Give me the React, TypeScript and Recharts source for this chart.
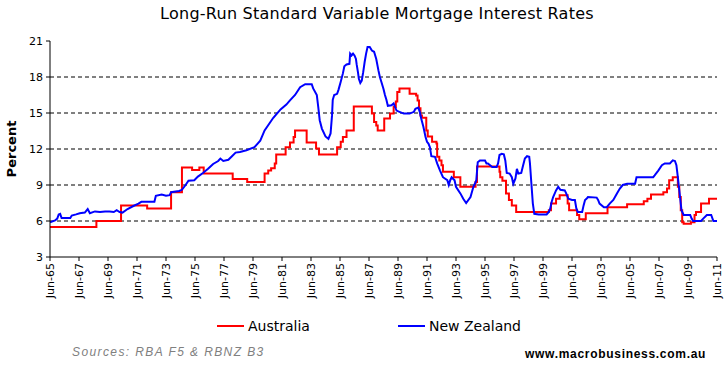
import { Line, LineChart, ReferenceLine, XAxis, YAxis } from "recharts";

// Australia: step levels, each value holds from its date until the next one.
const AU_DATES = [
  1965.5, 1968.7, 1970.4, 1972.2, 1973.85, 1974.6, 1975.3, 1975.8, 1976.1,
  1978.1, 1979.1, 1980.3, 1980.55, 1980.75, 1981.0, 1981.1, 1981.75, 1982.05,
  1982.3, 1982.4, 1983.2, 1983.85, 1984.05, 1985.3, 1985.55, 1985.7, 1985.95,
  1986.45, 1987.7, 1987.85, 1988.0, 1988.1, 1988.55, 1988.95, 1989.2, 1989.35,
  1989.45, 1989.6, 1990.3, 1990.75, 1990.85, 1990.95, 1991.05, 1991.15,
  1991.45, 1991.55, 1991.85, 1992.15, 1992.2, 1992.35, 1992.5, 1992.6, 1993.35,
  1993.8, 1994.85, 1994.95, 1996.5, 1996.55, 1996.7, 1996.95, 1997.15,
  1997.35, 1997.65, 1999.9, 2000.05, 2000.4, 2000.65, 2001.2, 2001.3, 2001.85,
  2002.0, 2002.45, 2003.95, 2005.3, 2006.45, 2006.7, 2006.95, 2007.8, 2008.05,
  2008.2, 2008.45, 2008.8, 2008.9, 2009.0, 2009.1, 2009.2, 2009.7, 2009.95,
  2010.05, 2010.4, 2010.95, 2011.5,
];
const AU_RATES = [
  5.5, 6.0, 7.3, 7.05, 8.4, 10.45, 10.25, 10.45, 9.95, 9.5, 9.25, 9.95, 10.2,
  10.4, 10.8, 11.55, 12.15, 12.55, 13.0, 13.55, 12.55, 12.05, 11.55, 12.15,
  12.6, 13.0, 13.55, 15.55, 14.95, 14.25, 13.95, 13.55, 14.55, 14.95, 15.5,
  15.95, 16.75, 17.05, 16.6, 16.45, 16.05, 15.4, 14.8, 14.6, 13.55, 13.05,
  12.6, 12.45, 11.35, 11.05, 10.65, 10.1, 9.65, 8.85, 9.25, 10.55, 10.1, 9.65,
  9.35, 8.3, 7.75, 7.3, 6.75, 6.9, 7.45, 7.85, 8.15, 7.45, 6.9, 6.5, 6.15,
  6.65, 7.15, 7.4, 7.65, 7.85, 8.2, 8.4, 8.7, 9.4, 9.65, 8.85, 8.0, 6.9, 5.9,
  5.78, 5.9, 6.5, 6.75, 7.45, 7.85, 7.85,
];

const NZ_DATES = [
  1965.5, 1965.85, 1966.0, 1966.1, 1966.2, 1966.3, 1966.9, 1967.0, 1967.3,
  1967.55, 1967.9, 1968.1, 1968.25, 1968.6, 1968.95, 1969.3, 1969.6, 1969.9,
  1970.1, 1970.3, 1970.5, 1970.85, 1971.25, 1971.6, 1971.8, 1972.7, 1972.8,
  1973.2, 1973.5, 1973.75, 1973.85, 1974.4, 1974.6, 1974.85, 1975.05, 1975.45,
  1975.7, 1976.05, 1976.4, 1976.75, 1977.1, 1977.25, 1977.45, 1977.8, 1978.05,
  1978.3, 1978.6, 1979.05, 1979.6, 1980.0, 1980.3, 1980.7, 1980.9, 1981.4,
  1981.8, 1982.05, 1982.4, 1982.75, 1983.1, 1983.55, 1983.65, 1983.9, 1984.0,
  1984.1, 1984.25, 1984.5, 1984.7, 1984.85, 1984.95, 1985.0, 1985.1, 1985.3,
  1985.4, 1985.55, 1985.7, 1985.8, 1985.95, 1986.15, 1986.2, 1986.3, 1986.4,
  1986.5, 1986.6, 1986.65, 1986.75, 1986.8, 1986.9, 1987.0, 1987.1, 1987.2,
  1987.3, 1987.4, 1987.55, 1987.7, 1987.85, 1988.0, 1988.15, 1988.25, 1988.35,
  1988.5, 1988.6, 1988.7, 1988.8, 1989.05, 1989.2, 1989.3, 1989.4, 1989.6,
  1989.9, 1990.3, 1990.6, 1990.7, 1990.9, 1991.0, 1991.1, 1991.25, 1991.4,
  1991.5, 1991.6, 1991.7, 1991.8, 1992.05, 1992.2, 1992.4, 1992.6, 1992.9,
  1993.0, 1993.1, 1993.2, 1993.4, 1993.5, 1993.8, 1994.0, 1994.2, 1994.5,
  1994.7, 1994.8, 1994.9, 1995.0, 1995.15, 1995.5, 1995.6, 1995.7, 1995.85,
  1996.0, 1996.3, 1996.4, 1996.5, 1996.65, 1996.8, 1996.9, 1997.0, 1997.2,
  1997.35, 1997.45, 1997.6, 1997.7, 1997.8, 1998.0, 1998.1, 1998.25, 1998.4,
  1998.55, 1998.6, 1998.7, 1998.8, 1998.9, 1999.2, 1999.75, 1999.9, 2000.0,
  2000.1, 2000.2, 2000.4, 2000.55, 2000.7, 2001.0, 2001.1, 2001.25, 2001.5,
  2001.7, 2001.8, 2001.9, 2002.2, 2002.3, 2002.4, 2002.5, 2002.6, 2003.2,
  2003.3, 2003.4, 2003.7, 2003.9, 2004.1, 2004.35, 2004.6, 2004.8, 2005.0,
  2005.3, 2005.85, 2005.95, 2007.1, 2007.2, 2007.45, 2007.7, 2007.9, 2008.25,
  2008.45, 2008.6, 2008.7, 2008.8, 2008.95, 2009.05, 2009.2, 2009.65, 2009.75,
  2009.85, 2010.4, 2010.55, 2010.8, 2011.1, 2011.25, 2011.5,
];
const NZ_RATES = [
  5.9, 6.05, 6.2, 6.55, 6.6, 6.25, 6.25, 6.45, 6.55, 6.65, 6.7, 7.0, 6.65, 6.8,
  6.75, 6.8, 6.8, 6.75, 6.9, 6.75, 6.7, 7.0, 7.25, 7.45, 7.6, 7.6, 8.1, 8.2,
  8.1, 8.15, 8.4, 8.5, 8.6, 9.0, 9.35, 9.4, 9.7, 10.0, 10.35, 10.75, 11.0,
  11.2, 11.0, 11.1, 11.4, 11.7, 11.75, 11.9, 12.15, 12.7, 13.55, 14.25, 14.6,
  15.3, 15.7, 16.05, 16.5, 17.15, 17.4, 17.4, 17.05, 16.5, 15.5, 14.4, 13.7,
  13.05, 12.85, 13.3, 14.8, 16.1, 16.5, 16.6, 16.95, 17.6, 18.3, 18.9, 19.05,
  19.1, 19.95, 19.8, 19.95, 19.8, 19.5, 19.05, 18.3, 17.85, 17.5, 17.7, 18.4,
  19.25, 19.95, 20.5, 20.5, 20.2, 20.1, 19.5, 18.55, 18.0, 17.6, 17.0, 16.5,
  16.1, 15.6, 15.65, 15.8, 15.5, 15.2, 15.1, 14.95, 14.95, 15.1, 15.35, 15.45,
  15.1, 14.55, 13.85, 13.0, 12.6, 12.45, 12.15, 11.4, 11.35, 10.8, 10.2, 9.65,
  9.4, 9.0, 9.4, 9.65, 9.4, 8.85, 8.3, 7.85, 7.5, 8.0, 8.85, 9.1, 9.4, 10.9,
  11.05, 11.05, 10.8, 10.8, 10.65, 10.5, 10.5, 10.8, 11.5, 11.6, 11.55, 11.05,
  10.0, 9.95, 9.65, 9.1, 9.55, 10.35, 9.95, 10.0, 10.5, 11.2, 11.4, 11.35,
  10.8, 9.1, 7.45, 6.6, 6.55, 6.55, 6.75, 7.05, 7.6, 8.0, 8.55, 8.85, 8.6,
  8.55, 8.3, 7.85, 7.75, 7.75, 7.05, 6.75, 6.75, 7.3, 7.75, 7.85, 8.0, 7.95,
  7.75, 7.45, 7.15, 7.15, 7.45, 7.75, 8.3, 8.7, 9.0, 9.1, 9.1, 9.65, 9.65, 9.8,
  10.2, 10.65, 10.8, 10.8, 11.05, 11.0, 10.65, 9.65, 8.0, 6.9, 6.5, 6.5, 6.2,
  6.0, 6.0, 6.2, 6.5, 6.5, 6.0, 6.0,
];

const X_LABELS = [
  "Jun-65", "Jun-67", "Jun-69", "Jun-71", "Jun-73", "Jun-75", "Jun-77",
  "Jun-79", "Jun-81", "Jun-83", "Jun-85", "Jun-87", "Jun-89", "Jun-91",
  "Jun-93", "Jun-95", "Jun-97", "Jun-99", "Jun-01", "Jun-03", "Jun-05",
  "Jun-07", "Jun-09", "Jun-11",
];
const Y_TICKS = [3, 6, 9, 12, 15, 18, 21];
const GRID_VALUES = [6, 9, 12, 15, 18];

const FIRST_TICK = 1965.5;
const xTicks = X_LABELS.map((_, i) => FIRST_TICK + i * 2);

const auData = AU_DATES.map((d, i) => ({ date: d, rate: AU_RATES[i] }));
const nzData = NZ_DATES.map((d, i) => ({ date: d, rate: NZ_RATES[i] }));

const FONT = "'DejaVu Sans', Verdana, sans-serif";

function XTick(props: any) {
  const { x, y, payload } = props;
  const label = X_LABELS[Math.round((payload.value - FIRST_TICK) / 2)];
  const tx = x + 4;
  return (
    <text
      x={tx}
      y={y}
      transform={`rotate(-90 ${tx} ${y})`}
      textAnchor="end"
      fontSize={11}
      fontFamily={FONT}
      fill="#000"
    >
      {label}
    </text>
  );
}

export default function App() {
  return (
    <div
      style={{
        position: "absolute",
        left: 0,
        top: 0,
        width: 726,
        height: 369,
        background: "#fff",
      }}
    >
      <div
        style={{
          position: "absolute",
          left: 0,
          width: 754,
          top: 4,
          textAlign: "center",
          fontFamily: FONT,
          fontSize: 16,
          letterSpacing: 0.25,
          color: "#000",
        }}
      >
        Long-Run Standard Variable Mortgage Interest Rates
      </div>

      <LineChart
        width={726}
        height={369}
        margin={{ top: 41, right: 9, bottom: 52, left: 0 }}
      >
        <XAxis
          dataKey="date"
          type="number"
          domain={[1965.5, 2011.5]}
          ticks={xTicks}
          interval={0}
          height={60}
          tick={<XTick />}
          tickSize={4}
          tickLine={{ stroke: "#000" }}
          axisLine={{ stroke: "#000" }}
          allowDataOverflow
        />
        <XAxis
          xAxisId="top"
          orientation="top"
          dataKey="date"
          type="number"
          domain={[1965.5, 2011.5]}
          height={0}
          tick={false}
          tickLine={false}
          axisLine={{ stroke: "#000" }}
        />
        <YAxis
          type="number"
          domain={[3, 21]}
          ticks={Y_TICKS}
          interval={0}
          width={50}
          tickSize={4}
          tickMargin={3}
          tick={{ fontSize: 11, fill: "#000", fontFamily: FONT }}
          tickLine={{ stroke: "#000" }}
          axisLine={{ stroke: "#000" }}
        />
        <YAxis
          yAxisId="right"
          orientation="right"
          type="number"
          domain={[3, 21]}
          width={0}
          tick={false}
          tickLine={false}
          axisLine={{ stroke: "#000" }}
        />
        {GRID_VALUES.map((v) => (
          <ReferenceLine
            key={v}
            y={v}
            stroke="#000"
            strokeDasharray="4 3"
            strokeWidth={1}
          />
        ))}
        <Line
          data={auData}
          dataKey="rate"
          type="stepAfter"
          stroke="#ff0000"
          strokeWidth={2}
          dot={false}
          isAnimationActive={false}
        />
        <Line
          data={nzData}
          dataKey="rate"
          type="linear"
          stroke="#0000ff"
          strokeWidth={2}
          dot={false}
          isAnimationActive={false}
        />
      </LineChart>

      <div
        style={{
          position: "absolute",
          left: 11,
          top: 149,
          transform: "translate(-50%, -50%) rotate(-90deg)",
          fontFamily: FONT,
          fontWeight: "bold",
          fontSize: 13,
          lineHeight: "15px",
          whiteSpace: "nowrap",
        }}
      >
        Percent
      </div>

      <div
        style={{
          position: "absolute",
          top: 318,
          left: 217,
          fontFamily: FONT,
          fontSize: 14,
          display: "flex",
          alignItems: "center",
          whiteSpace: "nowrap",
        }}
      >
        <span
          style={{
            display: "inline-block",
            width: 27,
            height: 2,
            background: "#ff0000",
            marginRight: 4,
          }}
        />
        <span style={{ width: 150 }}>Australia</span>
        <span
          style={{
            display: "inline-block",
            width: 27,
            height: 2,
            background: "#0000ff",
            marginRight: 4,
          }}
        />
        <span>New Zealand</span>
      </div>

      <div
        style={{
          position: "absolute",
          left: 72,
          top: 345,
          fontFamily: "'Liberation Sans', Arial, sans-serif",
          fontStyle: "italic",
          fontSize: 12,
          letterSpacing: 1.4,
          color: "#808080",
          whiteSpace: "nowrap",
        }}
      >
        Sources: RBA F5 &amp; RBNZ B3
      </div>
      <div
        style={{
          position: "absolute",
          left: 525,
          top: 347,
          fontFamily: "'Liberation Sans', Arial, sans-serif",
          fontWeight: "bold",
          fontSize: 12,
          letterSpacing: 0.7,
          color: "#000",
          whiteSpace: "nowrap",
        }}
      >
        www.macrobusiness.com.au
      </div>
    </div>
  );
}
